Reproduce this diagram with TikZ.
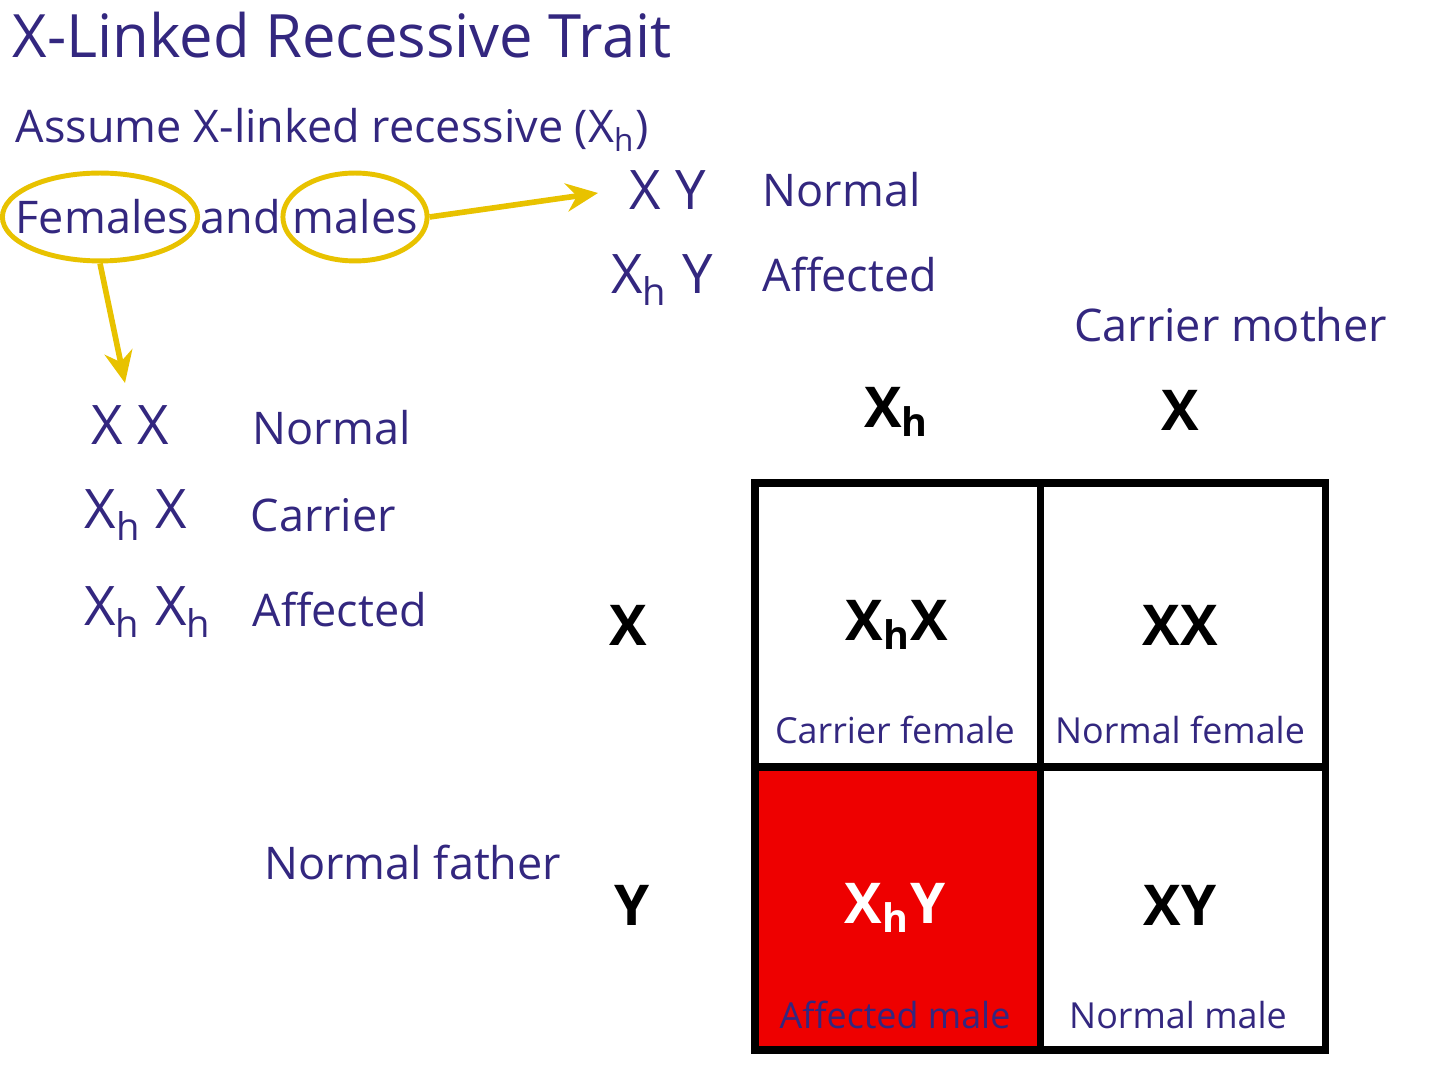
\documentclass[tikz,border=0pt]{standalone}
\usepackage{fontspec}
\setmainfont{Open Sans}
\usetikzlibrary{arrows.meta, shapes.geometric}
\definecolor{ink}{HTML}{33277F}
\definecolor{gold}{HTML}{E8C200}
\definecolor{cellred}{HTML}{EE0000}
\tikzset{
    lab/.style={text=ink, font=\fontsize{12.8}{15}\selectfont, inner sep=0pt},
    pair/.style={text=ink, font=\fontsize{15.5}{18}\selectfont, inner sep=0pt},
    geno/.style={text=black, font=\bfseries\fontsize{16}{19}\selectfont, inner sep=0pt},
    small/.style={text=ink, font=\fontsize{10.2}{12}\selectfont, inner sep=0pt},
    ring/.style={draw=gold, line width=1.4pt, ellipse, inner sep=0pt},
    pointer/.style={-{Stealth[length=9pt,width=8pt]}, draw=gold, line width=1.6pt}
}
\begin{document}
\begin{tikzpicture}[x=0.01cm, y=-0.01cm]
    \useasboundingbox (0,0) rectangle (1440,1080);
    % Headings
    \node[lab, anchor=west, font=\fontsize{17}{20}\selectfont] (title) at (12,35) {X-Linked Recessive Trait};
    \node[lab, anchor=west] (assume) at (15,130) {Assume X-linked recessive (X\textsubscript{h})};
    \node[lab, anchor=west] (fm) at (15,217) {Females and males};
    % Circled words
    \node[ring, minimum width=55.5pt, minimum height=25pt] (fem) at (100,217) {};
    \node[ring, minimum width=41pt, minimum height=25pt] (mal) at (355,217) {};
    \coordinate (mtip) at (598,193);
    \coordinate (ftip) at (125,383);
    \draw[pointer] (mal.east) -- (mtip);
    \draw[pointer] (fem.south) -- (ftip);
    % Male genotypes
    \node[pair] (xy) at (668,190) {X Y};
    \node[lab, anchor=west] (xyn) at (762,190) {Normal};
    \node[pair] (xhy) at (662,280) {X\textsubscript{h} Y};
    \node[lab, anchor=west] (xhya) at (762,275) {Affected};
    % Female genotypes
    \node[pair] (xx) at (130,425) {X X};
    \node[pair] (xhx) at (136,515) {X\textsubscript{h} X};
    \node[pair] (xhxh) at (148,612) {X\textsubscript{h} X\textsubscript{h}};
    \node[lab, anchor=west] (xxn) at (252,428) {Normal};
    \node[lab, anchor=west] (xhxc) at (250,515) {Carrier};
    \node[lab, anchor=west] (xhxha) at (252,610) {Affected};
    % Punnett square
    \node[lab, anchor=east] (mother) at (1388,325) {Carrier mother};
    \node[lab, anchor=east] (father) at (562,862) {Normal father};
    \node[geno] (mxh) at (897,412) {X\textsubscript{h}};
    \node[geno] (mx) at (1180,410) {X};
    \node[geno] (fx) at (628,625) {X};
    \node[geno] (fy) at (632,905) {Y};
    \fill[cellred] (755,767) rectangle (1040,1050);
    \draw[line width=2pt] (755,483) rectangle (1325,1050);
    \draw[line width=2pt] (1040,483) -- (1040,1050);
    \draw[line width=2pt] (755,767) -- (1325,767);
    \node[geno] (c1) at (897,625) {X\textsubscript{h}X};
    \node[small] (c1l) at (895,730) {Carrier female};
    \node[geno] (c2) at (1180,625) {XX};
    \node[small] (c2l) at (1180,730) {Normal female};
    \node[geno, text=white] (c3) at (895,908) {X\textsubscript{h}Y};
    \node[small] (c3l) at (895,1015) {Affected male};
    \node[geno] (c4) at (1180,905) {XY};
    \node[small] (c4l) at (1178,1015) {Normal male};
\end{tikzpicture}
\end{document}
